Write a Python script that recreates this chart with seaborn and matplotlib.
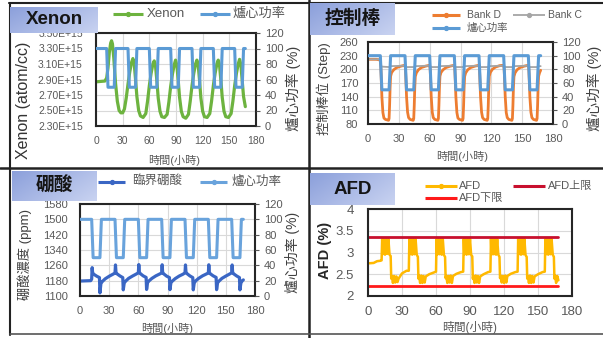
import numpy as np
import matplotlib
matplotlib.use("Agg")
import matplotlib.pyplot as plt
import seaborn as sns
from matplotlib.lines import Line2D

# ---------------- data ----------------
# core power (%) shared by three panels
power_hours = [0, 12, 13.5, 20.5, 22, 36, 37.5, 44.5, 46, 60, 61.5, 68.5, 70, 84, 85.5,
               92.5, 94, 108, 109.5, 116.5, 118, 132, 133.5, 140.5, 142, 156, 157.5,
               164.5, 166, 168]
power_pct = [100, 100, 50, 50, 100, 100, 50, 50, 100, 100, 50, 50, 100, 100, 50,
             50, 100, 100, 50, 50, 100, 100, 50, 50, 100, 100, 50,
             50, 100, 100]

# Xenon concentration (x1E+15 atom/cc)
xenon_hours = [0, 10, 12, 13.5, 15, 16.5, 17.5, 18.5, 20, 22, 24, 26, 28, 30, 32, 34, 36, 38, 40,
               41.5, 43, 44.5, 46, 48, 50, 53, 56, 58, 60, 62, 64,
               65.5, 67, 68.5, 70, 72, 74, 77, 80, 82, 84, 86, 88,
               89.5, 91, 92.5, 94, 96, 98, 101, 104, 106, 108, 110, 112,
               113.5, 115, 116.5, 118, 120, 122, 125, 128, 130, 132, 134, 136,
               137.5, 139, 140.5, 142, 144, 146, 149, 152, 154, 156, 158, 160,
               161.5, 163, 164.5, 166, 168]
xenon_e15 = [2.87, 2.88, 2.92, 3.05, 3.25, 3.37, 3.40, 3.36, 3.18, 2.85, 2.62, 2.50, 2.47, 2.47, 2.52, 2.66, 2.84, 3.00, 3.12,
             3.17, 3.10, 2.90, 2.68, 2.50, 2.43, 2.41, 2.46, 2.62, 2.82, 2.98, 3.10,
             3.14, 3.07, 2.88, 2.66, 2.49, 2.42, 2.41, 2.45, 2.61, 2.81, 2.97, 3.09,
             3.15, 3.08, 2.89, 2.67, 2.49, 2.42, 2.40, 2.45, 2.62, 2.82, 2.98, 3.10,
             3.15, 3.08, 2.89, 2.66, 2.49, 2.42, 2.41, 2.46, 2.62, 2.82, 2.98, 3.10,
             3.15, 3.08, 2.89, 2.67, 2.49, 2.42, 2.41, 2.46, 2.62, 2.82, 2.98, 3.10,
             3.16, 3.09, 2.88, 2.68, 2.55]

# Control rod positions (steps)
bankd_hours = [0, 8, 11, 12, 12.5, 13, 13.5, 14.5, 15.5, 17, 20, 20.5, 21, 21.5, 22, 23, 25, 28, 32,
               36, 36.5, 37, 37.5, 38.5, 39.5, 41, 44, 44.5, 45, 45.5, 46, 47, 49, 52, 56,
               60, 60.5, 61, 61.5, 62.5, 63.5, 65, 68, 68.5, 69, 69.5, 70, 71, 73, 76, 80,
               84, 84.5, 85, 85.5, 86.5, 87.5, 89, 92, 92.5, 93, 93.5, 94, 95, 97, 100, 104,
               108, 108.5, 109, 109.5, 110.5, 111.5, 113, 116, 116.5, 117, 117.5, 118, 119, 121, 124, 128,
               132, 132.5, 133, 133.5, 134.5, 135.5, 137, 140, 140.5, 141, 141.5, 142, 143, 145, 148, 152,
               156, 156.5, 157, 157.5, 158.5, 159.5, 161, 164, 164.5, 165, 165.5, 166, 167, 168]
bankd_step = [222, 222, 221, 219, 205, 172, 140, 105, 93, 90, 88, 92, 120, 160, 185, 193, 199, 204, 207,
              209, 200, 170, 140, 106, 94, 90, 88, 92, 120, 160, 184, 192, 199, 204, 207,
              209, 200, 171, 141, 106, 94, 90, 88, 92, 121, 160, 185, 193, 199, 204, 207,
              209, 201, 170, 140, 105, 93, 90, 88, 92, 120, 159, 184, 192, 199, 204, 207,
              209, 200, 170, 140, 106, 94, 90, 88, 92, 120, 160, 185, 193, 200, 205, 208,
              209, 200, 170, 141, 105, 94, 90, 88, 92, 120, 160, 184, 192, 199, 204, 207,
              209, 200, 170, 140, 106, 94, 90, 88, 92, 120, 160, 185, 193, 198]
bankc_hours = [0, 11, 12, 13, 20.5, 22, 36, 37.5, 44.5, 46, 60, 61.5, 68.5, 70, 84, 85.5, 92.5, 94,
               108, 109.5, 116.5, 118, 132, 133.5, 140.5, 142, 156, 157.5, 164.5, 166, 168]
bankc_step = [222, 222, 214, 206, 205, 207, 208, 205, 205, 207, 208, 205, 205, 207, 208, 205, 205, 207,
              208, 205, 205, 207, 208, 205, 205, 207, 208, 205, 205, 207, 207]

# Critical boron (ppm)
boron_hours = [0, 11, 12, 12.5, 13, 14, 17, 20, 20.5, 21.5, 23, 26, 30, 34,
               36, 36.5, 37, 38, 41, 44, 44.5, 45.5, 47, 50, 54, 58,
               60, 60.5, 61, 62, 65, 68, 68.5, 69.5, 71, 74, 78, 82,
               84, 84.5, 85, 86, 89, 92, 92.5, 93.5, 95, 98, 102, 106,
               108, 108.5, 109, 110, 113, 116, 116.5, 117.5, 119, 122, 126, 130,
               132, 132.5, 133, 134, 137, 140, 140.5, 141.5, 143, 146, 150, 154,
               156, 156.5, 157, 158, 161, 164, 164.5, 165.5, 167, 168]
boron_ppm = [1178, 1180, 1188, 1248, 1222, 1214, 1204, 1196, 1116, 1165, 1176, 1190, 1203, 1214,
             1220, 1262, 1224, 1216, 1205, 1196, 1132, 1168, 1178, 1192, 1204, 1215,
             1221, 1264, 1225, 1217, 1205, 1197, 1134, 1170, 1179, 1192, 1205, 1215,
             1220, 1263, 1224, 1216, 1204, 1196, 1133, 1169, 1178, 1191, 1204, 1214,
             1221, 1262, 1225, 1217, 1205, 1196, 1132, 1168, 1179, 1192, 1205, 1215,
             1220, 1263, 1224, 1216, 1205, 1197, 1133, 1169, 1178, 1192, 1204, 1215,
             1221, 1262, 1224, 1216, 1205, 1196, 1132, 1168, 1180, 1184]

# Axial flux difference (%)
afd_hours = [0, 5, 8, 11, 12, 12.5, 13, 14, 15, 16, 17, 18, 19, 20, 20.5, 21, 22, 23, 24, 25, 26, 27, 30, 34,
             36, 36.5, 37, 38, 39, 40, 41, 42, 43, 44, 44.5, 45, 46, 47, 48, 49, 50, 51, 54, 58,
             60, 60.5, 61, 62, 63, 64, 65, 66, 67, 68, 68.5, 69, 70, 71, 72, 73, 74, 75, 78, 82,
             84, 84.5, 85, 86, 87, 88, 89, 90, 91, 92, 92.5, 93, 94, 95, 96, 97, 98, 99, 102, 106,
             108, 108.5, 109, 110, 111, 112, 113, 114, 115, 116, 116.5, 117, 118, 119, 120, 121, 122, 123, 126, 130,
             132, 132.5, 133, 134, 135, 136, 137, 138, 139, 140, 140.5, 141, 142, 143, 144, 145, 146, 147, 150, 154,
             156, 156.5, 157, 158, 159, 160, 161, 162, 163, 164, 164.5, 165, 166, 167, 168]
afd_pct = [2.75, 2.76, 2.80, 2.81, 2.82, 3.31, 2.96, 3.31, 2.95, 3.31, 2.97, 3.31, 2.95, 2.92, 2.40, 2.46, 2.30, 2.46, 2.31, 2.45, 2.32, 2.40, 2.52, 2.58,
           2.58, 3.31, 2.96, 3.31, 2.95, 3.31, 2.96, 3.31, 2.95, 2.90, 2.40, 2.47, 2.30, 2.47, 2.30, 2.46, 2.31, 2.45, 2.50, 2.54,
           2.56, 3.31, 2.95, 3.31, 2.96, 3.31, 2.95, 3.31, 2.94, 2.90, 2.41, 2.47, 2.30, 2.46, 2.31, 2.47, 2.30, 2.46, 2.51, 2.55,
           2.56, 3.31, 2.96, 3.31, 2.95, 3.31, 2.96, 3.31, 2.95, 2.91, 2.40, 2.46, 2.30, 2.47, 2.31, 2.46, 2.30, 2.45, 2.50, 2.55,
           2.56, 3.31, 2.95, 3.31, 2.96, 3.31, 2.95, 3.31, 2.95, 2.90, 2.41, 2.47, 2.31, 2.46, 2.30, 2.47, 2.31, 2.46, 2.51, 2.55,
           2.56, 3.31, 2.96, 3.31, 2.95, 3.31, 2.96, 3.31, 2.94, 2.90, 2.40, 2.46, 2.30, 2.47, 2.30, 2.46, 2.31, 2.45, 2.50, 2.55,
           2.56, 3.31, 2.96, 3.31, 2.95, 3.31, 2.96, 3.31, 2.95, 2.90, 2.40, 2.47, 2.30, 2.46, 2.36]
afd_limit_hours = [0, 168]
afd_upper = [3.35, 3.35]
afd_lower = [2.23, 2.23]

hour_ticks = [0, 30, 60, 90, 120, 150, 180]
power_ticks = [0, 20, 40, 60, 80, 100, 120]
xenon_ticks = [2.30, 2.50, 2.70, 2.90, 3.10, 3.30, 3.50]
rod_ticks = [80, 110, 140, 170, 200, 230, 260]
boron_ticks = [1100, 1180, 1260, 1340, 1420, 1500, 1580]
afd_ticks = [2, 2.5, 3, 3.5, 4]

# ---------------- style ----------------
sns.set_style("white")
plt.rcParams['font.family'] = ['Liberation Sans', 'Noto Sans CJK TC', 'DejaVu Sans']
plt.rcParams['axes.unicode_minus'] = False

W, H = 603, 338
fig = plt.figure(figsize=(W / 100, H / 100), dpi=100)
fig.patch.set_facecolor('white')

TICK = '#595959'
C_XE = '#6db33f'
C_PW = '#5b9bd5'
C_BD = '#ed7d31'
C_BC = '#a5a5a5'
C_BO = '#3a66c4'
C_PW2 = '#69a3dc'
C_AFD = '#ffb900'
C_UP = '#c8102e'
C_LO = '#ff1a1a'


def fx(x):
    return x / W


def fy(y):
    return 1 - y / H


def rect(x0, y0, x1, y1):
    return [x0 / W, 1 - y1 / H, (x1 - x0) / W, (y1 - y0) / H]


def style_main(ax, ylim, yticks, ylabels=None, fs=8, pad_y=8, pad_x=7):
    ax.set_xlim(0, 180)
    ax.set_xticks(hour_ticks)
    ax.set_ylim(*ylim)
    ax.set_yticks(yticks)
    if ylabels is not None:
        ax.set_yticklabels(ylabels)
    ax.grid(True, color='#d9d9d9', lw=0.8)
    ax.set_axisbelow(True)
    ax.tick_params(axis='both', length=0, labelsize=fs, colors=TICK)
    ax.tick_params(axis='y', pad=pad_y)
    ax.tick_params(axis='x', pad=pad_x)
    for s in ax.spines.values():
        s.set_color('#262626')
        s.set_linewidth(1.5)
    ax.set_xlabel('')
    ax.set_ylabel('')
    ax.set_facecolor('white')


def style_twin(ax2):
    ax2.set_ylim(0, 120)
    ax2.set_yticks(power_ticks)
    ax2.tick_params(axis='y', length=3, width=0.8, colors=TICK, labelsize=8, pad=3.5, direction='out')
    ax2.grid(False)
    for s in ax2.spines.values():
        s.set_visible(False)
    ax2.set_xlabel('')
    ax2.set_ylabel('')


def line(ax, x, y, color, lw):
    sns.lineplot(x=x, y=y, ax=ax, color=color, linewidth=lw, estimator=None,
                 sort=False, legend=False)


def legend_entry(x0, x1, y, color, label, fs, lw=2.2, tx=None, marker=True):
    fig.add_artist(Line2D([fx(x0), fx(x1)], [fy(y), fy(y)], color=color, lw=lw,
                          transform=fig.transFigure, solid_capstyle='butt'))
    if marker:
        fig.add_artist(Line2D([fx((x0 + x1) / 2)], [fy(y)], color=color, marker='o', ms=2.8,
                              transform=fig.transFigure))
    fig.text(fx(tx if tx is not None else x1 + 4), fy(y), label, fontsize=fs, color=TICK,
             va='center', ha='left')


def title_box(x0, y0, x1, y1, text):
    bax = fig.add_axes(rect(x0, y0, x1, y1), zorder=10)
    gx = np.linspace(0, 1, 60)[None, :]
    gy = np.linspace(0, 1, 30)[:, None]
    t = np.clip(0.65 * gx + 0.35 * gy, 0, 1)
    c1 = np.array([0x8c, 0xa0, 0xdb]) / 255
    c2 = np.array([0xc9, 0xd3, 0xf1]) / 255
    img = c1[None, None, :] * (1 - t[..., None]) + c2[None, None, :] * t[..., None]
    bax.imshow(img, extent=[0, 1, 0, 1], aspect='auto', origin='upper')
    bax.set_axis_off()
    bax.text(0.5, 0.5, text, ha='center', va='center', fontsize=13.5,
             fontweight='bold', color='#151515', transform=bax.transAxes)


# ---------------- panel 1 : Xenon ----------------
ax = fig.add_axes(rect(96, 33, 256, 126))
line(ax, xenon_hours, xenon_e15, C_XE, 2.3)
style_main(ax, (2.3, 3.5), xenon_ticks, [f"{v:.2f}E+15" for v in xenon_ticks], fs=7.5, pad_y=9.5)
ax2 = ax.twinx()
line(ax2, power_hours, power_pct, C_PW, 2.2)
style_twin(ax2)
fig.text(fx(24), fy(100), 'Xenon (atom/cc)', rotation=90, ha='center', va='center',
         fontsize=11.5, color='#333333')
fig.text(fx(293), fy(88), '爐心功率 (%)', rotation=90, ha='center', va='center',
         fontsize=10.5, color='#404040')
fig.text(fx(174), fy(160), '時間(小時)', ha='center', va='center', fontsize=8, color=TICK)
legend_entry(113, 143, 14, C_XE, 'Xenon', 9.5, tx=147)
legend_entry(200, 230, 14, C_PW, '爐心功率', 9.5, tx=233)
title_box(10, 7, 98, 33, 'Xenon')

# ---------------- panel 2 : control rods ----------------
ax = fig.add_axes(rect(368, 42, 553, 124))
line(ax, bankd_hours, bankd_step, C_BD, 2.0)
line(ax, bankc_hours, bankc_step, C_BC, 1.3)
style_main(ax, (80, 260), rod_ticks, fs=8, pad_y=7)
ax2 = ax.twinx()
line(ax2, power_hours, power_pct, C_PW, 2.2)
style_twin(ax2)
fig.text(fx(324), fy(89), '控制棒位 (Step)', rotation=90, ha='center', va='center',
         fontsize=9.5, color='#404040')
fig.text(fx(594), fy(88), '爐心功率 (%)', rotation=90, ha='center', va='center',
         fontsize=10.5, color='#404040')
fig.text(fx(462), fy(157), '時間(小時)', ha='center', va='center', fontsize=8, color=TICK)
legend_entry(432, 460, 15, C_BD, 'Bank D', 7.5, tx=467)
legend_entry(513, 545, 15, C_BC, 'Bank C', 7.5, lw=1.3, tx=548)
legend_entry(432, 460, 28, C_PW, '爐心功率', 7.5, tx=467)
title_box(310, 3, 395, 35, '控制棒')

# ---------------- panel 3 : boron ----------------
ax = fig.add_axes(rect(80, 204, 255, 296))
line(ax, boron_hours, boron_ppm, C_BO, 2.3)
style_main(ax, (1100, 1580), boron_ticks, fs=8, pad_y=8.5)
ax2 = ax.twinx()
line(ax2, power_hours, power_pct, C_PW2, 2.2)
style_twin(ax2)
fig.text(fx(25), fy(255), '硼酸濃度 (ppm)', rotation=90, ha='center', va='center',
         fontsize=9.5, color='#404040')
fig.text(fx(293), fy(252), '爐心功率 (%)', rotation=90, ha='center', va='center',
         fontsize=10, color='#404040')
fig.text(fx(167), fy(328), '時間(小時)', ha='center', va='center', fontsize=8, color=TICK)
legend_entry(98, 125, 182, C_BO, '臨界硼酸', 9, tx=132)
legend_entry(200, 227, 182, C_PW2, '爐心功率', 9, tx=232)
title_box(12, 171, 97, 201, '硼酸')

# ---------------- panel 4 : AFD ----------------
ax = fig.add_axes(rect(368, 209, 572, 296))
line(ax, afd_hours, afd_pct, C_AFD, 1.8)
line(ax, afd_limit_hours, afd_upper, C_UP, 2.0)
line(ax, afd_limit_hours, afd_lower, C_LO, 2.0)
style_main(ax, (2, 4), afd_ticks, ['2', '2.5', '3', '3.5', '4'], fs=9.5, pad_y=10, pad_x=7.5)
fig.text(fx(325), fy(250), 'AFD (%)', rotation=90, ha='center', va='center',
         fontsize=10.5, fontweight='bold', color='#262626')
fig.text(fx(470), fy(328), '時間(小時)', ha='center', va='center', fontsize=8.5, color=TICK)
legend_entry(425, 457, 186, C_AFD, 'AFD', 8, tx=459)
legend_entry(513, 545, 186, C_UP, 'AFD上限', 8, tx=548, marker=False)
legend_entry(425, 457, 198, C_LO, 'AFD下限', 8, tx=459, marker=False)
title_box(310, 173, 395, 205, 'AFD')

# ---------------- panel frames ----------------
for (xs, ys, c, w) in [([9, 603], [3, 3], '#222222', 1.5),
                       ([10, 10], [3, 335], '#222222', 1.5),
                       ([309, 309], [0, 338], '#222222', 1.8),
                       ([0, 603], [168, 168], '#222222', 1.8),
                       ([10, 603], [334, 334], '#555555', 1.2)]:
    fig.add_artist(Line2D([fx(v) for v in xs], [fy(v) for v in ys], color=c, lw=w,
                          transform=fig.transFigure))

fig.savefig('out.png', dpi=100, facecolor='white')
